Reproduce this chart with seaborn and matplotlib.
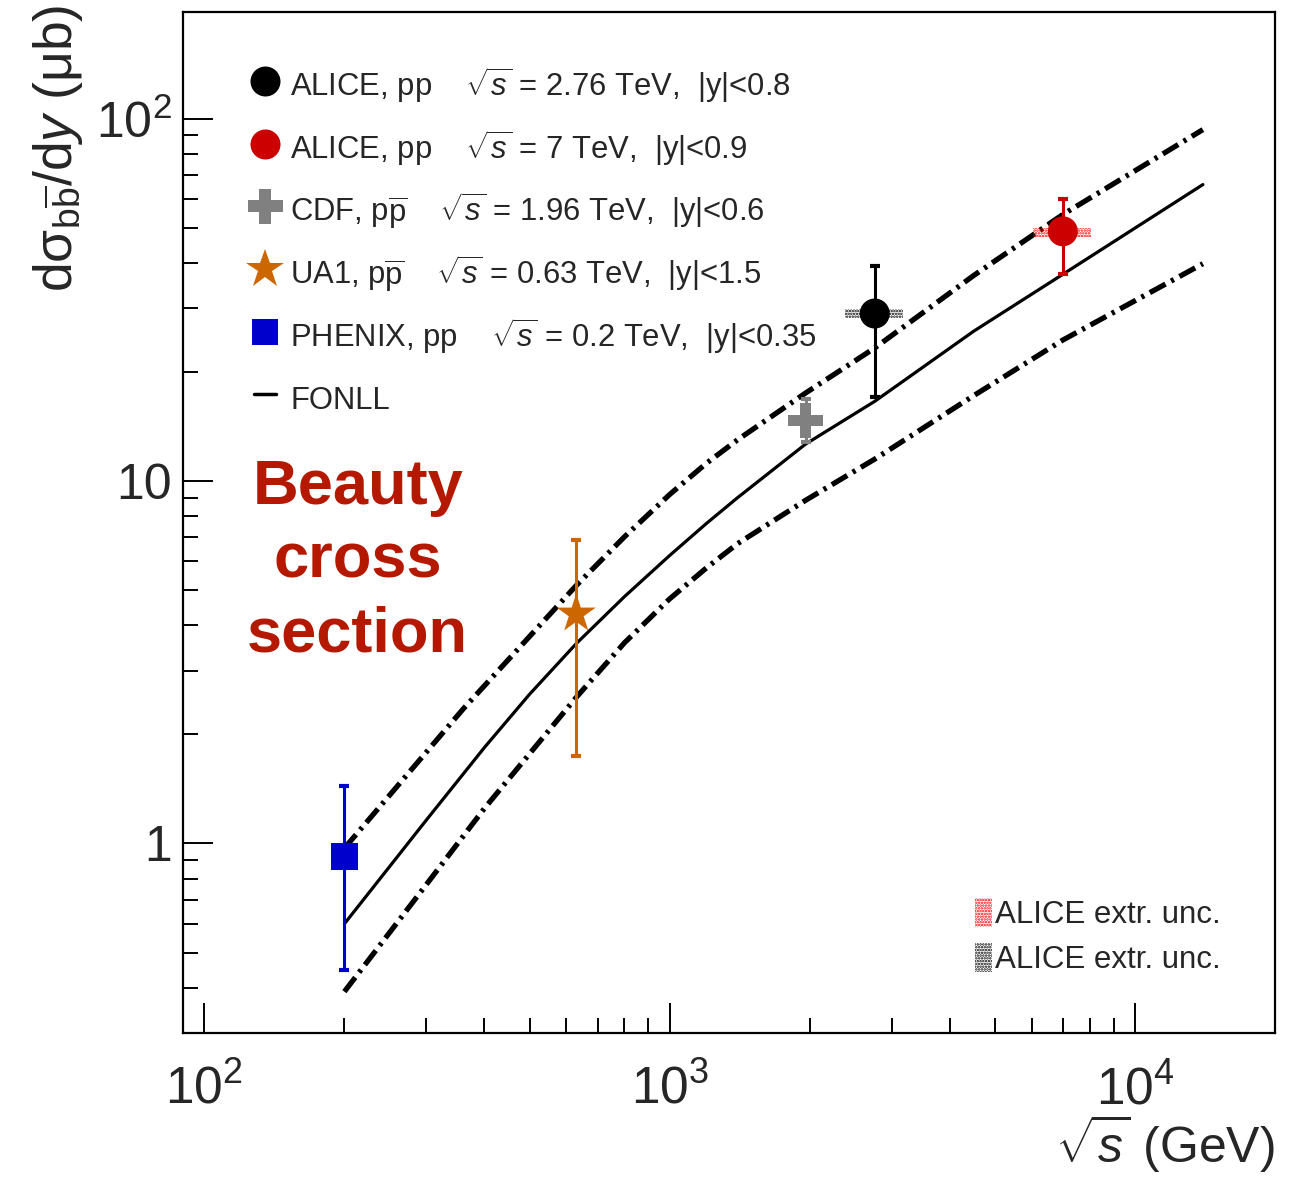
import numpy as np
import pandas as pd
import matplotlib
matplotlib.use("Agg")
import matplotlib.pyplot as plt
import seaborn as sns
from matplotlib.lines import Line2D
from matplotlib.patches import Patch
from matplotlib.ticker import FixedLocator, FixedFormatter, LogLocator, NullFormatter

# ---------------- data ----------------
point_names = ["ALICE 2.76", "ALICE 7", "CDF", "UA1", "PHENIX"]
point_sqrts = [2760, 7000, 1960, 630, 200]            # GeV
point_xsec = [29.0, 48.9, 14.7, 4.30, 0.923]          # ub
point_err_hi = [10.2, 11.2, 2.1, 2.58, 0.515]
point_err_lo = [11.9, 11.7, 1.9, 2.56, 0.475]

extr_sqrts = [7000, 2760]
extr_lo = [47.2, 28.1]
extr_hi = [50.0, 29.9]

fonll_c_sqrts = [200, 300, 400, 500, 630, 800, 1000, 1200, 1400, 1960, 2760, 4500, 7000, 14000]
fonll_c_xsec = [0.60, 1.16, 1.84, 2.58, 3.56, 4.80, 6.23, 7.64, 9.00, 12.65, 16.6, 25.9, 37.2, 65.8]

fonll_hi_sqrts = [200, 360, 630, 800, 1000, 1200, 1400, 1960, 2760, 4500, 7000, 14000]
fonll_hi_xsec = [0.97, 2.35, 5.15, 7.02, 9.18, 11.2, 13.0, 17.5, 23.3, 36.9, 54.4, 93.3]

fonll_lo_sqrts = [200, 300, 400, 630, 800, 1000, 1200, 1400, 1960, 2760, 4500, 7000, 14000]
fonll_lo_xsec = [0.39, 0.77, 1.25, 2.53, 3.58, 4.73, 5.76, 6.72, 8.85, 11.5, 17.2, 24.5, 39.8]

legend_labels = [
    r"ALICE, pp    $\sqrt{s}$ = 2.76 TeV,  |y|<0.8",
    r"ALICE, pp    $\sqrt{s}$ = 7 TeV,  |y|<0.9",
    r"CDF, p$\overline{\mathrm{p}}$    $\sqrt{s}$ = 1.96 TeV,  |y|<0.6",
    r"UA1, p$\overline{\mathrm{p}}$    $\sqrt{s}$ = 0.63 TeV,  |y|<1.5",
    r"PHENIX, pp    $\sqrt{s}$ = 0.2 TeV,  |y|<0.35",
    "FONLL",
]
extr_labels = ["ALICE extr. unc.", "ALICE extr. unc."]

x_tick_vals = [100, 1000, 10000]
x_tick_labels = [r"$10^2$", r"$10^3$", r"$10^4$"]
y_tick_vals = [1, 10, 100]
y_tick_labels = ["1", "10", r"$10^2$"]

# ---------------- styles ----------------
colors = ["#000000", "#CC0000", "#808080", "#CC6600", "#0000CC"]
markers = ["o", "o", "P", "*", "s"]
msizes = [21.6, 21.6, 25.2, 29.5, 19.4]
extr_colors = ["#FF0000", "#000000"]

sns.set_style("ticks")
plt.rcParams["font.family"] = ["Liberation Sans", "DejaVu Sans"]
plt.rcParams["mathtext.fontset"] = "custom"
plt.rcParams["mathtext.rm"] = "Liberation Sans"
plt.rcParams["mathtext.it"] = "Liberation Sans:italic"
plt.rcParams["mathtext.bf"] = "Liberation Sans:bold"
plt.rcParams["mathtext.sf"] = "Liberation Sans"
plt.rcParams["hatch.linewidth"] = 1.2

fig = plt.figure(figsize=(12.97, 11.77), dpi=100)
ax = fig.add_axes([0.1411, 0.1224, 0.8419, 0.8674])
ax.set_xscale("log")
ax.set_yscale("log")

dashdot = (0, (3.4, 1.2, 0.6, 1.2))
sns.lineplot(x=fonll_c_sqrts, y=fonll_c_xsec, ax=ax, color="black", lw=2.3,
             estimator=None, sort=False, zorder=2)
sns.lineplot(x=fonll_hi_sqrts, y=fonll_hi_xsec, ax=ax, color="black", lw=3.8,
             linestyle=dashdot, estimator=None, sort=False, zorder=2)
sns.lineplot(x=fonll_lo_sqrts, y=fonll_lo_xsec, ax=ax, color="black", lw=3.8,
             linestyle=dashdot, estimator=None, sort=False, zorder=2)

# extrapolation-uncertainty boxes
for xs, lo, hi, c in zip(extr_sqrts, extr_lo, extr_hi, extr_colors):
    ax.fill_between([xs / 1.16, xs * 1.15], [lo, lo], [hi, hi], facecolor="none",
                    edgecolor=c, hatch="......", linewidth=0, zorder=3)

df = pd.DataFrame({"name": point_names, "sqrts": point_sqrts, "xsec": point_xsec,
                   "hi": point_err_hi, "lo": point_err_lo})
for i, row in df.iterrows():
    ax.errorbar(row["sqrts"], row["xsec"], yerr=[[row["lo"]], [row["hi"]]], fmt="none",
                ecolor=colors[i], elinewidth=2.2, capsize=3.6, capthick=3.0, zorder=4)
    sns.scatterplot(x=[row["sqrts"]], y=[row["xsec"]], ax=ax, marker=markers[i],
                    s=msizes[i] ** 2, color=colors[i], edgecolor="none", linewidth=0,
                    zorder=5, legend=False)

ax.set_xlim(90, 20000)
ax.set_ylim(0.3, 197)

ax.xaxis.set_major_locator(FixedLocator(x_tick_vals))
ax.xaxis.set_major_formatter(FixedFormatter(x_tick_labels))
ax.yaxis.set_major_locator(FixedLocator(y_tick_vals))
ax.yaxis.set_major_formatter(FixedFormatter(y_tick_labels))
ax.xaxis.set_minor_locator(LogLocator(base=10, subs=np.arange(2, 10), numticks=20))
ax.yaxis.set_minor_locator(LogLocator(base=10, subs=np.arange(2, 10), numticks=20))
ax.xaxis.set_minor_formatter(NullFormatter())
ax.yaxis.set_minor_formatter(NullFormatter())
ax.tick_params(which="both", direction="in", top=False, right=False, width=1.4, color="black")
ax.tick_params(which="major", length=21.6)
ax.tick_params(which="minor", length=10.8)
ax.tick_params(axis="x", which="major", labelsize=37, pad=23)
ax.tick_params(axis="y", which="major", labelsize=36, pad=8)
for s in ax.spines.values():
    s.set_linewidth(1.6)
    s.set_color("black")

ax.set_xlabel(r"$\sqrt{s}$ (GeV)", fontsize=36, loc="right")
ax.xaxis.set_label_coords(1.0, -0.077)
ax.xaxis.label.set_va("top")
ax.set_ylabel(r"dσ$_{\mathrm{b}\overline{\mathrm{b}}}$/d$y$ (μb)", fontsize=38.5, loc="top")
ax.yaxis.set_label_coords(-0.09, 1.007)

# Title text
ax.text(0.160, 0.462, "Beauty\ncross\nsection", transform=ax.transAxes, ha="center",
        va="center", fontsize=45.5, fontweight="bold", color="#B41900", linespacing=1.33)

# main legend
handles = [Line2D([], [], ls="none", marker=m, ms=ms, color=c, markeredgewidth=0)
           for m, ms, c in zip(markers, msizes, colors)]
handles.append(Line2D([], [], color="black", lw=2.5))
leg1 = ax.legend(handles, legend_labels, loc="upper left", bbox_to_anchor=(0.0646, 0.948),
                 frameon=False, fontsize=22.3, handlelength=0.74, handleheight=1.6,
                 handletextpad=0.45, labelspacing=0.71, borderpad=0, borderaxespad=0)
ax.add_artist(leg1)

extr_handles = [Patch(facecolor="none", edgecolor=c, hatch="......", lw=0) for c in extr_colors]
ax.legend(extr_handles, extr_labels, loc="upper left", bbox_to_anchor=(0.725, 0.132),
          frameon=False, fontsize=22.5, handlelength=0.55, handleheight=1.03,
          handletextpad=0.1, labelspacing=0.42, borderpad=0, borderaxespad=0)

fig.savefig("out.png", dpi=100)
